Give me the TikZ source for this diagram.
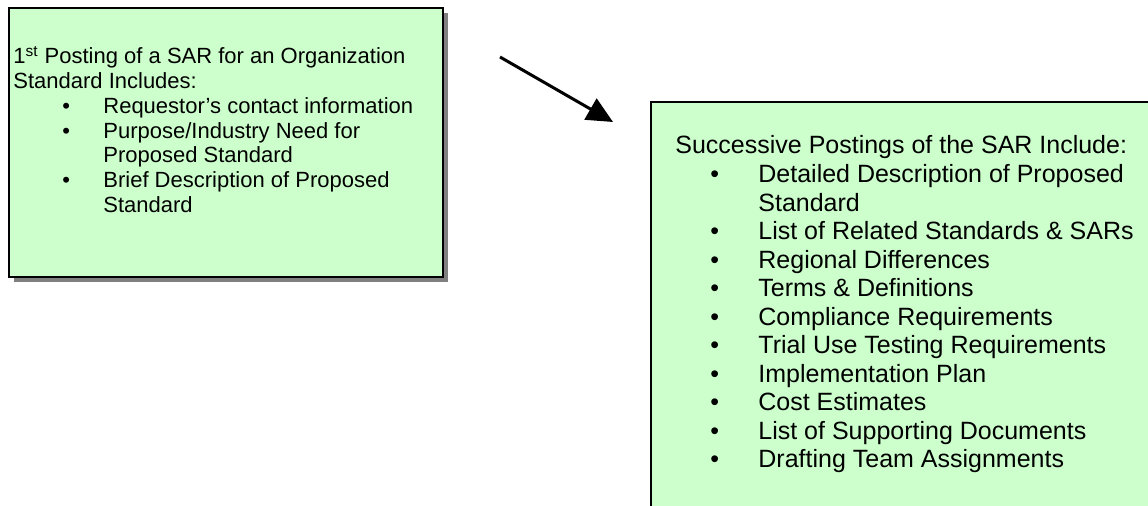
\documentclass[tikz,border=0pt]{standalone}
\usepackage{fontspec}
\setmainfont{Liberation Sans}
\usepackage{tikz}
\usetikzlibrary{arrows.meta}
\definecolor{green20}{RGB}{204, 255, 204}
\definecolor{gray50}{RGB}{128, 128, 128}
\tikzset{
  txtA/.style={anchor=base west, inner sep=0pt, font=\fontsize{11}{13}\selectfont},
  txtB/.style={anchor=base west, inner sep=0pt, font=\fontsize{12.5}{15}\selectfont},
}

\begin{document}
\begin{tikzpicture}[x=0.5pt, y=-0.5pt]
  \useasboundingbox (0,0) rectangle (1148,506);
  \clip (0,0) rectangle (1148,506);
  % first posting
  \fill[gray50] (14,13) rectangle (447.5,282);
  \filldraw[fill=green20, line width=1pt] (9,8) rectangle (442.5,277);
  \node[txtA] (a0) at (13,64.0)    {1\textsuperscript{st} Posting of a SAR for an Organization};
  \node[txtA] (a1) at (13,88.7)    {Standard Includes:};
  \node[txtA] (p1) at (62,113.4)   {\textbullet};
  \node[txtA] (a2) at (103,113.4)  {Requestor’s contact information};
  \node[txtA] (p2) at (62,138.1)   {\textbullet};
  \node[txtA] (a3) at (103,138.1)  {Purpose/Industry Need for};
  \node[txtA] (a4) at (103,162.8)  {Proposed Standard};
  \node[txtA] (p3) at (62,187.5)   {\textbullet};
  \node[txtA] (a5) at (103,187.5)  {Brief Description of Proposed};
  \node[txtA] (a6) at (103,212.2)  {Standard};
  % successive postings
  \filldraw[fill=green20, line width=1pt] (651,102) rectangle (1180,540);
  \node[txtB] (b0)  at (675,154.0)  {Successive Postings of the SAR Include:};
  \node[txtB] (q1)  at (710,182.5)  {\textbullet};
  \node[txtB] (b1)  at (758,182.5)  {Detailed Description of Proposed};
  \node[txtB] (b2)  at (758,211.1)  {Standard};
  \node[txtB] (q2)  at (710,239.6)  {\textbullet};
  \node[txtB] (b3)  at (758,239.6)  {List of Related Standards \& SARs};
  \node[txtB] (q3)  at (710,268.2)  {\textbullet};
  \node[txtB] (b4)  at (758,268.2)  {Regional Differences};
  \node[txtB] (q4)  at (710,296.7)  {\textbullet};
  \node[txtB] (b5)  at (758,296.7)  {Terms \& Definitions};
  \node[txtB] (q5)  at (710,325.3)  {\textbullet};
  \node[txtB] (b6)  at (758,325.3)  {Compliance Requirements};
  \node[txtB] (q6)  at (710,353.8)  {\textbullet};
  \node[txtB] (b7)  at (758,353.8)  {Trial Use Testing Requirements};
  \node[txtB] (q7)  at (710,382.4)  {\textbullet};
  \node[txtB] (b8)  at (758,382.4)  {Implementation Plan};
  \node[txtB] (q8)  at (710,410.9)  {\textbullet};
  \node[txtB] (b9)  at (758,410.9)  {Cost Estimates};
  \node[txtB] (q9)  at (710,439.5)  {\textbullet};
  \node[txtB] (b10) at (758,439.5)  {List of Supporting Documents};
  \node[txtB] (q10) at (710,468.0)  {\textbullet};
  \node[txtB] (b11) at (758,468.0)  {Drafting Team Assignments};
  % arrow
  \coordinate (from) at (500,57);
  \coordinate (to) at (613,122);
  \draw[line width=1.5pt, -{Triangle[length=13pt,width=12pt]}] (from) -- (to);
\end{tikzpicture}
\end{document}
